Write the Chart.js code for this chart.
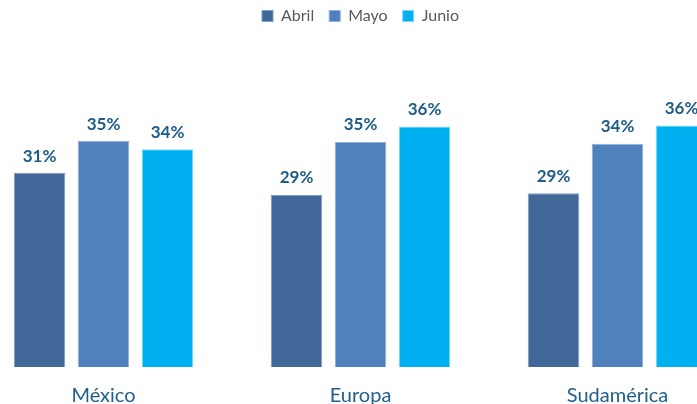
<!DOCTYPE html>
<html>
<head>
<meta charset="utf-8">
<script src="https://cdn.jsdelivr.net/npm/chart.js@4.4.1/dist/chart.umd.min.js"></script>
<style>
  html, body { margin: 0; padding: 0; background: #fff; overflow: hidden; }
  #wrap { position: relative; width: 697px; height: 404px; overflow: hidden; }
  #myChart { position: absolute; left: -25px; top: 0; }
</style>
</head>
<body>
<div id="wrap">
  <canvas id="myChart" width="771" height="404"></canvas>
</div>
<script>
// values (percent)
const regions = ['México', 'Europa', 'Sudamérica']
const abril = [31.2, 28.8, 29.0]
const mayo = [34.7, 34.6, 34.4]
const junio = [33.8, 36.3, 36.4]

const labelColor = '#1f5c87'

// draws the % value above every bar
const valueLabels = {
    id: 'valueLabels',
    afterDatasetsDraw(chart) {
        const ctx = chart.ctx
        ctx.save()
        ctx.font = 'bold 17px Lato'
        ctx.fillStyle = labelColor
        ctx.textAlign = 'center'
        ctx.textBaseline = 'middle'
        chart.data.datasets.forEach((ds, i) => {
            chart.getDatasetMeta(i).data.forEach((bar, j) => {
                ctx.fillText(Math.round(ds.data[j]) + '%', bar.x, bar.y - 17)
            })
        })
        ctx.restore()
    }
}

const dataChart = {
    labels: regions,
    datasets: [
        { label: 'Abril', data: abril, backgroundColor: '#416899', borderColor: '#7a9cc4' },
        { label: 'Mayo', data: mayo, backgroundColor: '#4f81bd', borderColor: '#8fb0d8' },
        { label: 'Junio', data: junio, backgroundColor: '#00b0f0', borderColor: '#7dd6f7' }
    ]
}

const config = {
    type: 'bar',
    data: dataChart,
    options: {
        responsive: false,
        animation: false,
        layout: { padding: { top: -7, bottom: -21, left: 0, right: 0 } },
        datasets: {
            bar: { barPercentage: 0.805, categoryPercentage: 0.747, borderWidth: 1 }
        },
        plugins: {
            legend: {
                position: 'top',
                labels: {
                    boxWidth: 11, boxHeight: 11, padding: 15,
                    color: '#595959',
                    font: { family: 'Lato', size: 16 }
                }
            },
            tooltip: { enabled: false }
        },
        scales: {
            x: {
                grid: { display: false, drawTicks: false },
                border: { display: false },
                ticks: { color: '#22608c', padding: 17, font: { family: 'Lato', size: 20 } }
            },
            y: {
                display: false,
                min: 10,
                max: 46.4
            }
        }
    },
    plugins: [valueLabels]
}

const myChart = new Chart(document.getElementById('myChart'), config)
</script>
</body>
</html>
